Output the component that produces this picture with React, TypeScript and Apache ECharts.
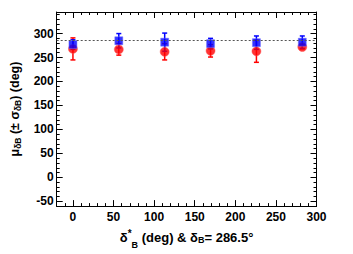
import React, { useEffect, useRef } from "react";
import * as echarts from "echarts";

const deltaStar = [0, 56.5, 113, 169.5, 226, 282.5];
const redMean = [268, 267, 262, 264, 263, 272];
const redErr = [23, 12, 17, 13, 23, 4];
const blueMean = [277, 285, 282, 279, 281, 282];
const blueErr = [10, 15, 19, 11, 14, 13];
const deltaB = 286.5;
const xRange = [-20, 300];
const yRange = [-60, 345];

const FONT = "'Liberation Sans', Arial, Helvetica, sans-serif";

function errSeries(name: string, means: number[], errs: number[], color: string) {
  return {
    name,
    type: "custom",
    xAxisIndex: 0,
    yAxisIndex: 0,
    data: deltaStar.map((x, i) => [x, means[i] - errs[i], means[i] + errs[i]]),
    renderItem: (params: any, api: any) => {
      const lo = api.coord([api.value(0), api.value(1)]);
      const hi = api.coord([api.value(0), api.value(2)]);
      const cap = 2.5;
      const st = { stroke: color, lineWidth: 1.5 };
      return {
        type: "group",
        children: [
          { type: "line", shape: { x1: lo[0], y1: lo[1], x2: hi[0], y2: hi[1] }, style: st },
          { type: "line", shape: { x1: lo[0] - cap, y1: lo[1], x2: lo[0] + cap, y2: lo[1] }, style: st },
          { type: "line", shape: { x1: hi[0] - cap, y1: hi[1], x2: hi[0] + cap, y2: hi[1] }, style: st },
        ],
      };
    },
    z: 2,
  };
}

function minorAxis(pos: string, isX: boolean, labels: boolean, extra: any = {}) {
  const r = isX ? xRange : yRange;
  return {
    type: "value",
    position: pos,
    min: r[0],
    max: r[1],
    interval: 10,
    axisLine: { show: true, onZero: false, lineStyle: { color: "#000", width: 1 } },
    axisTick: { show: true, inside: true, length: 3, lineStyle: { color: "#000", width: 1 } },
    axisLabel: labels
      ? {
          show: true,
          margin: isX ? 5 : 3,
          color: "#000",
          fontFamily: FONT,
          fontWeight: "bold",
          fontSize: 12,
          showMinLabel: true,
          showMaxLabel: true,
          formatter: (v: number) => (Math.round(v) % 50 === 0 ? String(Math.round(v)) : ""),
        }
      : { show: false },
    splitLine: { show: false },
    ...extra,
  };
}

function majorAxis(pos: string, isX: boolean) {
  const r = isX ? xRange : yRange;
  return {
    type: "value",
    position: pos,
    min: r[0],
    max: r[1],
    minInterval: 50,
    maxInterval: 50,
    axisLine: { show: false, onZero: false },
    axisTick: { show: true, inside: true, length: 6, lineStyle: { color: "#000", width: 1 } },
    axisLabel: { show: false },
    splitLine: { show: false },
  };
}

export default function App() {
  const ref = useRef<HTMLDivElement>(null);
  useEffect(() => {
    if (!ref.current) return;
    const chart = echarts.init(ref.current, null, { renderer: "svg" });
    const option: any = {
      animation: false,
      backgroundColor: "#fff",
      grid: { left: 56.7, right: 36.5, top: 12, bottom: 40.7, containLabel: false },
      xAxis: [
        minorAxis("bottom", true, true, {
          name: "{t|δ}{sup|*}{sub|B}{t| (deg) & δ}{sub2|B}{t|= 286.5°}",
          nameLocation: "middle",
          nameGap: 18,
          nameTextStyle: {
            rich: {
              t: { fontFamily: FONT, fontWeight: "bold", fontSize: 13, color: "#000" },
              sup: { fontFamily: FONT, fontWeight: "bold", fontSize: 10, color: "#000", padding: [0, 0, 8, 0] },
              sub: { fontFamily: FONT, fontWeight: "bold", fontSize: 9, color: "#000", padding: [15, 0, 0, 0] },
              sub2: { fontFamily: FONT, fontWeight: "bold", fontSize: 9, color: "#000", padding: [6, 0, 0, 0] },
            },
          },
        }),
        majorAxis("bottom", true),
        minorAxis("top", true, false),
        majorAxis("top", true),
      ],
      yAxis: [
        minorAxis("left", false, true, {
          name: "{t|μ}{sub|δB}{t| (± σ}{sub|δB}{t|) (deg)}",
          nameLocation: "middle",
          nameGap: 28,
          nameTextStyle: {
            rich: {
              t: { fontFamily: FONT, fontWeight: "bold", fontSize: 12.5, color: "#000" },
              sub: { fontFamily: FONT, fontWeight: "bold", fontSize: 8.5, color: "#000", padding: [6, 0, 0, 0] },
            },
          },
        }),
        majorAxis("left", false),
        minorAxis("right", false, false),
        majorAxis("right", false),
      ],
      series: [
        errSeries("redErr", redMean, redErr, "#ff0000"),
        errSeries("blueErr", blueMean, blueErr, "#0000ff"),
        {
          name: "red",
          type: "scatter",
          xAxisIndex: 0,
          yAxisIndex: 0,
          symbol: "circle",
          symbolSize: 9,
          itemStyle: { color: "#ff0000", borderColor: "rgba(255,90,90,0.6)", borderWidth: 1 },
          data: deltaStar.map((x, i) => [x, redMean[i]]),
          z: 3,
          markLine: {
            silent: true,
            symbol: ["none", "none"],
            label: { show: false },
            lineStyle: { color: "#555", type: [2, 2], width: 1 },
            data: [{ yAxis: deltaB }],
          },
        },
        {
          name: "blue",
          type: "scatter",
          xAxisIndex: 0,
          yAxisIndex: 0,
          symbol: "rect",
          symbolSize: 8,
          itemStyle: { color: "#0000ff", borderColor: "rgba(110,110,255,0.6)", borderWidth: 1 },
          data: deltaStar.map((x, i) => [x, blueMean[i]]),
          z: 4,
        },
      ],
    };
    chart.setOption(option);
    return () => chart.dispose();
  }, []);
  return (
    <div
      ref={ref}
      style={{ position: "fixed", left: 0, top: 0, width: 353, height: 254, background: "#fff" }}
    />
  );
}
